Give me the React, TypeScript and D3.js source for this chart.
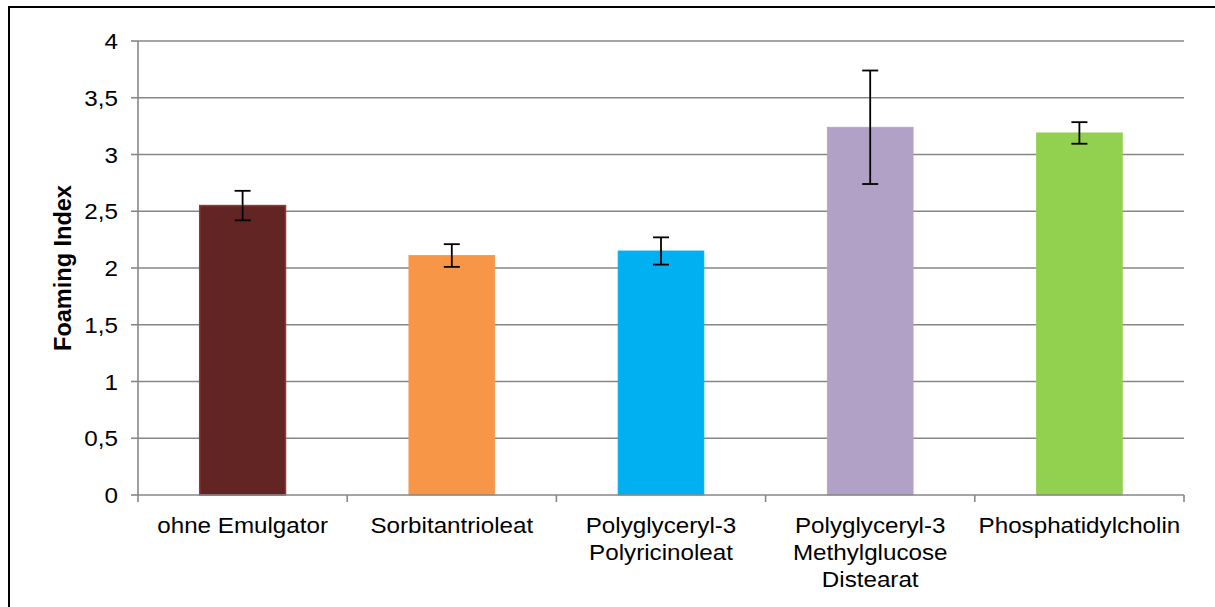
import React from "react";
import * as d3 from "d3";

const categories: string[][] = [
  ["ohne Emulgator"],
  ["Sorbitantrioleat"],
  ["Polyglyceryl-3", "Polyricinoleat"],
  ["Polyglyceryl-3", "Methylglucose", "Distearat"],
  ["Phosphatidylcholin"],
];
const values = [2.55, 2.11, 2.15, 3.24, 3.19];
const errors = [0.13, 0.1, 0.12, 0.5, 0.095];
const colors = ["#632523", "#F79646", "#00B0F0", "#B2A1C7", "#92D050"];
const strokes = ["#953735", "#F79646", "#00B0F0", "#B2A1C7", "#92D050"];
const yTicks = [0, 0.5, 1, 1.5, 2, 2.5, 3, 3.5, 4];
const yTickLabels = ["0", "0,5", "1", "1,5", "2", "2,5", "3", "3,5", "4"];
const yTitle = "Foaming Index";

const W = 1215;
const H = 607;
const left = 138;
const right = 1184;
const top = 41;
const bottom = 495;
const font = "Arial, 'Liberation Sans', sans-serif";
const grid = "#878787";

export default function App() {
  const idx = categories.map((_, i) => String(i));
  const x = d3
    .scaleBand<string>()
    .domain(idx)
    .range([left, right])
    .paddingInner(0.59)
    .paddingOuter(0.295);
  const y = d3.scaleLinear().domain([0, 4]).range([bottom, top]);
  const step = x.step();
  const bw = x.bandwidth();
  const capW = 16;

  return (
    <svg
      width={W}
      height={H}
      style={{ position: "absolute", left: 0, top: 0, background: "#fff" }}
      fontFamily={font}
    >
      <rect x={0} y={0} width={W} height={H} fill="#fff" />
      <rect x={9} y={7} width={1230} height={640} fill="none" stroke="#000" strokeWidth={2} />
      {/* gridlines */}
      {yTicks.map((t, i) =>
        t === 0 ? null : (
          <line key={"g" + i} x1={left} x2={right} y1={y(t)} y2={y(t)} stroke={grid} strokeWidth={1.6} />
        )
      )}
      {/* y axis */}
      <line x1={left} x2={left} y1={top} y2={bottom} stroke={grid} strokeWidth={1.6} />
      {yTicks.map((t, i) => (
        <g key={"yt" + i}>
          <line x1={left - 7} x2={left} y1={y(t)} y2={y(t)} stroke={grid} strokeWidth={1.6} />
          <text
            transform={`translate(${118},${y(t) + 8}) scale(1.1,1)`}
            textAnchor="end"
            fontSize={22}
            fill="#000"
          >
            {yTickLabels[i]}
          </text>
        </g>
      ))}
      {/* bars */}
      {values.map((v, i) => (
        <rect
          key={"b" + i}
          x={x(String(i))!}
          y={y(v)}
          width={bw}
          height={y(0) - y(v)}
          fill={colors[i]}
          stroke={strokes[i]}
          strokeWidth={i === 0 ? 1.5 : 0.8}
        />
      ))}
      {/* x axis */}
      <line x1={left} x2={right} y1={bottom} y2={bottom} stroke={grid} strokeWidth={1.6} />
      {d3.range(categories.length + 1).map((k) => (
        <line
          key={"xt" + k}
          x1={left + k * step}
          x2={left + k * step}
          y1={bottom}
          y2={bottom + 7}
          stroke={grid}
          strokeWidth={1.6}
        />
      ))}
      {/* error bars */}
      {values.map((v, i) => {
        const cx = x(String(i))! + bw / 2;
        const y1 = y(v + errors[i]);
        const y2 = y(v - errors[i]);
        return (
          <g key={"e" + i} stroke="#000" strokeWidth={1.8}>
            <line x1={cx} x2={cx} y1={y1} y2={y2} />
            <line x1={cx - capW / 2} x2={cx + capW / 2} y1={y1} y2={y1} />
            <line x1={cx - capW / 2} x2={cx + capW / 2} y1={y2} y2={y2} />
          </g>
        );
      })}
      {/* x labels */}
      {categories.map((lines, i) => {
        const cx = x(String(i))! + bw / 2;
        return (
          <text
            key={"xl" + i}
            transform={`translate(${cx},${533}) scale(1.1,1)`}
            textAnchor="middle"
            fontSize={22}
            fill="#000"
          >
            {lines.map((l, j) => (
              <tspan key={j} x={0} y={j * 27}>
                {l}
              </tspan>
            ))}
          </text>
        );
      })}
      {/* y title */}
      <text
        transform={`translate(${71},${268}) rotate(-90)`}
        textAnchor="middle"
        fontSize={23.5}
        fontWeight="bold"
        fill="#000"
      >
        {yTitle}
      </text>
    </svg>
  );
}
